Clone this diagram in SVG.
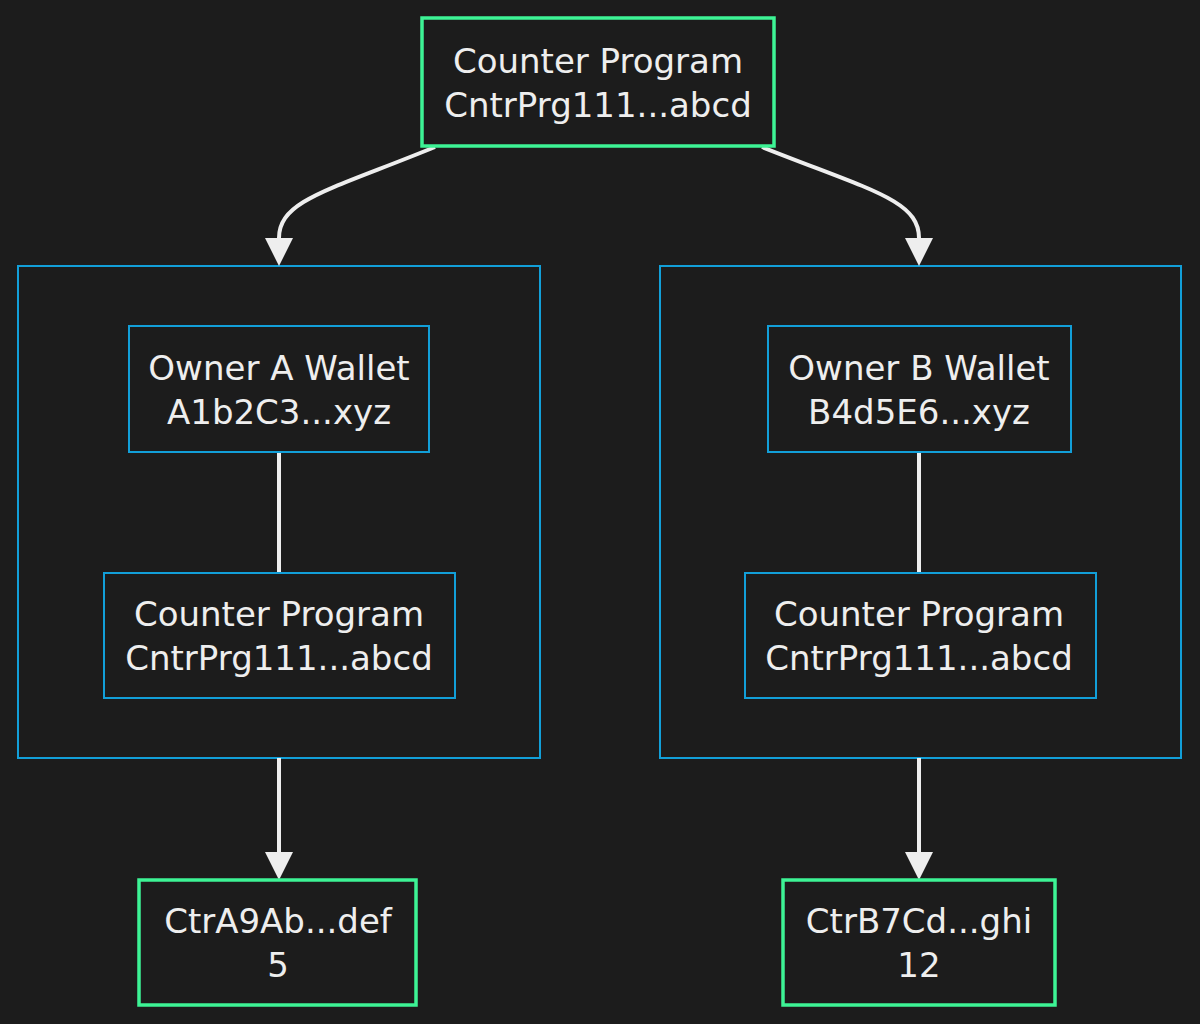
<svg xmlns="http://www.w3.org/2000/svg" width="1200" height="1024" viewBox="0 0 1200 1024">
<style>
.g{fill:#1c1c1c;stroke:#3df395;stroke-width:3.5}
.b{fill:#1c1c1c;stroke:#129fd8;stroke-width:2}
.c{fill:none;stroke-width:2;stroke:#129fd8}
text{font-family:"DejaVu Sans","Liberation Sans",sans-serif;font-size:34px;fill:#eeeeee;text-anchor:middle}
.e{fill:none;stroke:#eeeeee;stroke-width:4}
</style>
<rect width="1200" height="1024" fill="#1c1c1c"/>
<g id="clusterA"><rect class="c" x="18" y="266" width="522" height="492"/></g>
<g id="clusterB"><rect class="c" x="660" y="266" width="521" height="492"/></g>
<g id="edges">
<path class="e" d="M435,147 C330,190 279,200 279,238"/>
<path d="M265,238 L293,238 L279,266z" fill="#eee"/>
<path class="e" d="M762,147 C870,190 919,200 919,238"/>
<path d="M905,238 L933,238 L919,266z" fill="#eee"/>
<path class="e" d="M279,452 V573"/>
<path class="e" d="M919,452 V573"/>
<path class="e" d="M279,758 V852"/>
<path d="M265,852 L293,852 L279,880z" fill="#eee"/>
<path class="e" d="M919,758 V852"/>
<path d="M905,852 L933,852 L919,880z" fill="#eee"/>
</g>
<g id="top"><rect class="g" x="422" y="18" width="352" height="128"/><text x="598" y="73">Counter Program</text><text x="598" y="117">CntrPrg111...abcd</text></g>
<g id="ownerA"><rect class="b" x="129" y="326" width="300" height="126"/><text x="279" y="380">Owner A Wallet</text><text x="279" y="424">A1b2C3...xyz</text></g>
<g id="progA"><rect class="b" x="104" y="573" width="351" height="125"/><text x="279" y="626">Counter Program</text><text x="279" y="670">CntrPrg111...abcd</text></g>
<g id="ownerB"><rect class="b" x="768" y="326" width="303" height="126"/><text x="919" y="380">Owner B Wallet</text><text x="919" y="424">B4d5E6...xyz</text></g>
<g id="progB"><rect class="b" x="745" y="573" width="351" height="125"/><text x="919" y="626">Counter Program</text><text x="919" y="670">CntrPrg111...abcd</text></g>
<g id="ctrA"><rect class="g" x="139" y="880" width="277" height="125"/><text x="278" y="933">CtrA9Ab...def</text><text x="278" y="977">5</text></g>
<g id="ctrB"><rect class="g" x="783" y="880" width="272" height="125"/><text x="919" y="933">CtrB7Cd...ghi</text><text x="919" y="977">12</text></g>
</svg>
